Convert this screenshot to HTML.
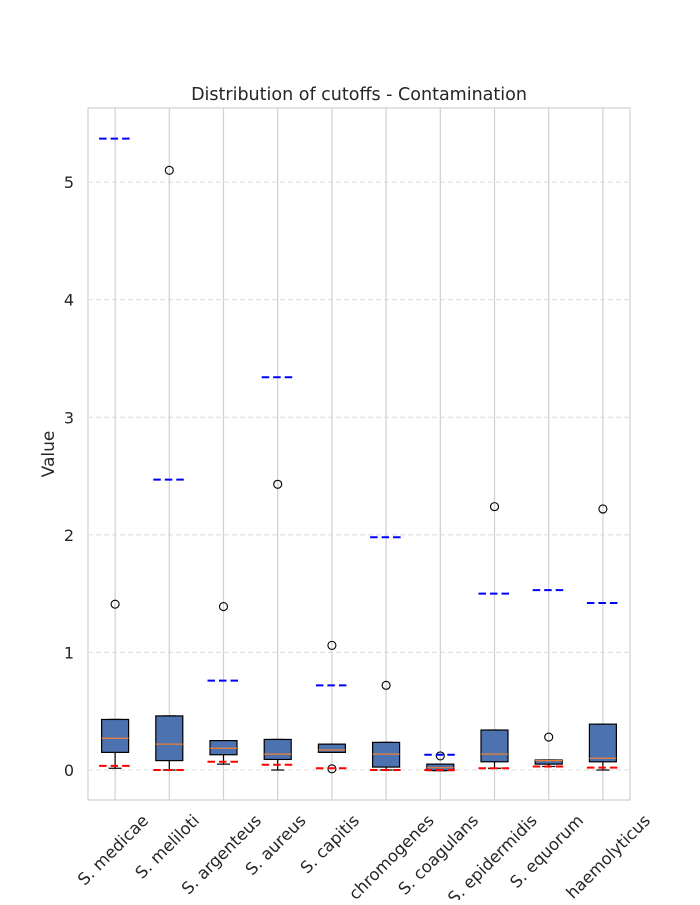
<!DOCTYPE html>
<html><head><meta charset="utf-8"><style>
body{margin:0;background:#fff}
svg text{font-family:"DejaVu Sans","Liberation Sans",sans-serif;fill:#262626}
</style></head><body>
<svg id="chart" width="700" height="900" xmlns="http://www.w3.org/2000/svg"></svg>
<script>
const categories=["S. medicae","S. meliloti","S. argenteus","S. aureus","S. capitis","S. chromogenes","S. coagulans","S. epidermidis","S. equorum","S. haemolyticus"];
const q1=[0.15,0.08,0.13,0.09,0.15,0.025,-0.005,0.07,0.05,0.07];
const q3=[0.43,0.46,0.25,0.26,0.22,0.235,0.05,0.34,0.085,0.39];
const medians=[0.27,0.22,0.185,0.135,0.17,0.135,0.02,0.135,0.08,0.10];
const whiskLo=[0.015,0,0.05,0,0.15,0,-0.005,0.015,0.03,0];
const whiskHi=[0.43,0.46,0.25,0.26,0.22,0.235,0.05,0.34,0.085,0.39];
const outliers=[[1.41],[5.1],[1.39],[2.43],[1.06,0.01],[0.72],[0.12],[2.24],[0.28],[2.22]];
const blueCut=[5.37,2.47,0.76,3.34,0.72,1.98,0.13,1.5,1.53,1.42];
const redCut=[0.035,0,0.07,0.045,0.015,0,0,0.015,0.03,0.02];
const yTicks=[0,1,2,3,4,5];

const svg=document.getElementById('chart');
const NS='http://www.w3.org/2000/svg';
const L=88,R=630,T=108,B=800,yMin=-0.255,yMax=5.63;
const y=v=>B-(v-yMin)/(yMax-yMin)*(B-T);
const step=(R-L)/categories.length;
const x=i=>L+step*(i+0.5);
function el(tag,attrs,parent){const e=document.createElementNS(NS,tag);for(const k in attrs)e.setAttribute(k,attrs[k]);(parent||svg).appendChild(e);return e;}

let g=el('rect',{x:L,y:T,width:R-L,height:B-T,fill:'#fff',stroke:'#d0d0d0','stroke-width':1.2});


yTicks.forEach(t=>{
  const ln=el('line',{x1:L,x2:R,y1:y(t),y2:y(t),stroke:'#dcdcdc','stroke-dasharray':'5,3','stroke-width':1});
  
  
  const tx=el('text',{x:L-14,y:y(t)+6,'text-anchor':'end','font-size':16});
  tx.textContent=t;
  
  
});
categories.forEach((c,i)=>{
  const ln=el('line',{x1:x(i),x2:x(i),y1:T,y2:B,stroke:'#d0d0d0','stroke-width':1.2});
  
  
});
const bw=27,cw=13,dw=32;
categories.forEach((c,i)=>{
  const cx=x(i);
  const grp=el('g',{});
  
  
  el('line',{x1:cx,x2:cx,y1:y(q1[i]),y2:y(whiskLo[i]),stroke:'#000','stroke-width':1.2},grp);
  el('line',{x1:cx,x2:cx,y1:y(q3[i]),y2:y(whiskHi[i]),stroke:'#000','stroke-width':1.2},grp);
  el('line',{x1:cx-cw/2,x2:cx+cw/2,y1:y(whiskLo[i]),y2:y(whiskLo[i]),stroke:'#000','stroke-width':1.2},grp);
  el('line',{x1:cx-cw/2,x2:cx+cw/2,y1:y(whiskHi[i]),y2:y(whiskHi[i]),stroke:'#000','stroke-width':1.2},grp);
  el('rect',{x:cx-bw/2,y:y(q3[i]),width:bw,height:Math.max(1,y(q1[i])-y(q3[i])),fill:'#4c72b0',stroke:'#000','stroke-width':1.2},grp);
  el('line',{x1:cx-bw/2,x2:cx+bw/2,y1:y(medians[i]),y2:y(medians[i]),stroke:'#f08030','stroke-width':1.2},grp);
  outliers[i].forEach(o=>{
    const ci=el('circle',{cx:cx,cy:y(o),r:4,fill:'none',stroke:'#000','stroke-width':1.1});
    
    
  });
  const bl=el('line',{x1:cx-dw/2,x2:cx+dw/2,y1:y(blueCut[i]),y2:y(blueCut[i]),stroke:'#0000ff','stroke-width':2,'stroke-dasharray':'7.5,4'});
  
  
  const rl=el('line',{x1:cx-dw/2,x2:cx+dw/2,y1:y(redCut[i]),y2:y(redCut[i]),stroke:'#ff0000','stroke-width':2,'stroke-dasharray':'7.5,4'});
  
  
  const tx=el('text',{'font-size':16.5,'text-anchor':'middle','dominant-baseline':'central'});
  tx.textContent=c;
  
  
  const len=tx.getComputedTextLength();
  const h=(len+16)*0.7071/2;
  const cy=812+h;
  tx.setAttribute('x',cx-2);tx.setAttribute('y',cy);
  tx.setAttribute('transform','rotate(-45 '+(cx-2)+' '+cy+')');
});
let t=el('text',{x:(L+R)/2,y:100,'text-anchor':'middle','font-size':17.5});
t.textContent='Distribution of cutoffs - Contamination';


t=el('text',{x:54,y:(T+B)/2,'text-anchor':'middle','font-size':17,transform:'rotate(-90 54 '+((T+B)/2)+')'});
t.textContent='Value';


</script>
</body></html>
